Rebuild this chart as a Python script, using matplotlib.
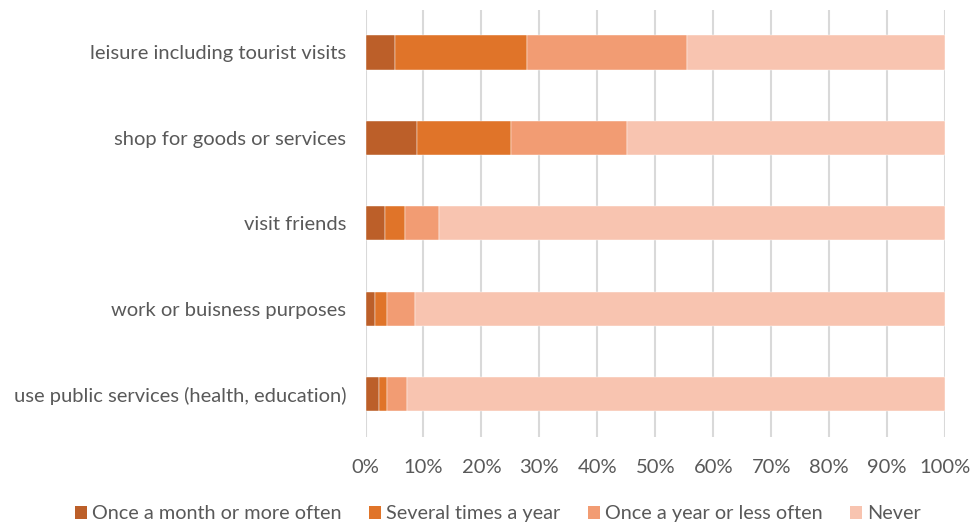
import matplotlib
matplotlib.use("Agg")
from matplotlib import pyplot as plt
from matplotlib.ticker import PercentFormatter
from matplotlib.patches import Patch

# Categories, top to bottom
categories = ["leisure including tourist visits",
              "shop for goods or services",
              "visit friends",
              "work or buisness purposes",
              "use public services (health, education)"]

# Share of respondents (%) per frequency
monthly = [5.1, 8.9, 3.4, 1.7, 2.4]
several = [22.8, 16.2, 3.4, 2.0, 1.3]
yearly = [27.6, 20.1, 5.9, 4.8, 3.5]
never = [44.5, 54.8, 87.3, 91.5, 92.8]

series_names = ["Once a month or more often", "Several times a year",
                "Once a year or less often", "Never"]
colors = ["#BC5F29", "#E07429", "#F29C73", "#F8C4B0"]

plt.rcParams['font.family'] = ['Lato', 'DejaVu Sans']
text_color = "#595959"

fig = plt.figure(figsize=(9.74, 5.26), dpi=100)
ax = fig.add_axes([0.3753, 0.1692, 0.5949, 0.8123])

y = list(range(len(categories)))
left = [0.0] * len(categories)
for vals, name, col in zip([monthly, several, yearly, never], series_names, colors):
    ax.barh(y, vals, left=left, height=0.4, color=col, label=name,
            edgecolor="white", linewidth=0.3, zorder=3)
    left = [l + v for l, v in zip(left, vals)]

ax.set_xlim(0, 100)
ax.set_ylim(len(categories) - 0.5, -0.5)
ax.set_yticks(y)
ax.set_yticklabels(categories)
ax.set_xticks(range(0, 101, 10))
ax.xaxis.set_major_formatter(PercentFormatter(decimals=0))
ax.tick_params(axis='both', length=0, labelsize=14.5, colors=text_color)
ax.tick_params(axis='x', pad=16)
ax.tick_params(axis='y', pad=14)
ax.grid(axis='x', color="#D9D9D9", linewidth=1.5, zorder=0)
for s in ax.spines.values():
    s.set_visible(False)

handles = [Patch(facecolor=c, label=n) for c, n in zip(colors, series_names)]
leg = fig.legend(handles=handles, loc='center', bbox_to_anchor=(0.511, 0.023),
                 ncol=4, frameon=False, fontsize=14.3, handlelength=0.6,
                 handleheight=0.6, handletextpad=0.25, columnspacing=1.4)
for t in leg.get_texts():
    t.set_color(text_color)

fig.savefig("out.png", dpi=100)
